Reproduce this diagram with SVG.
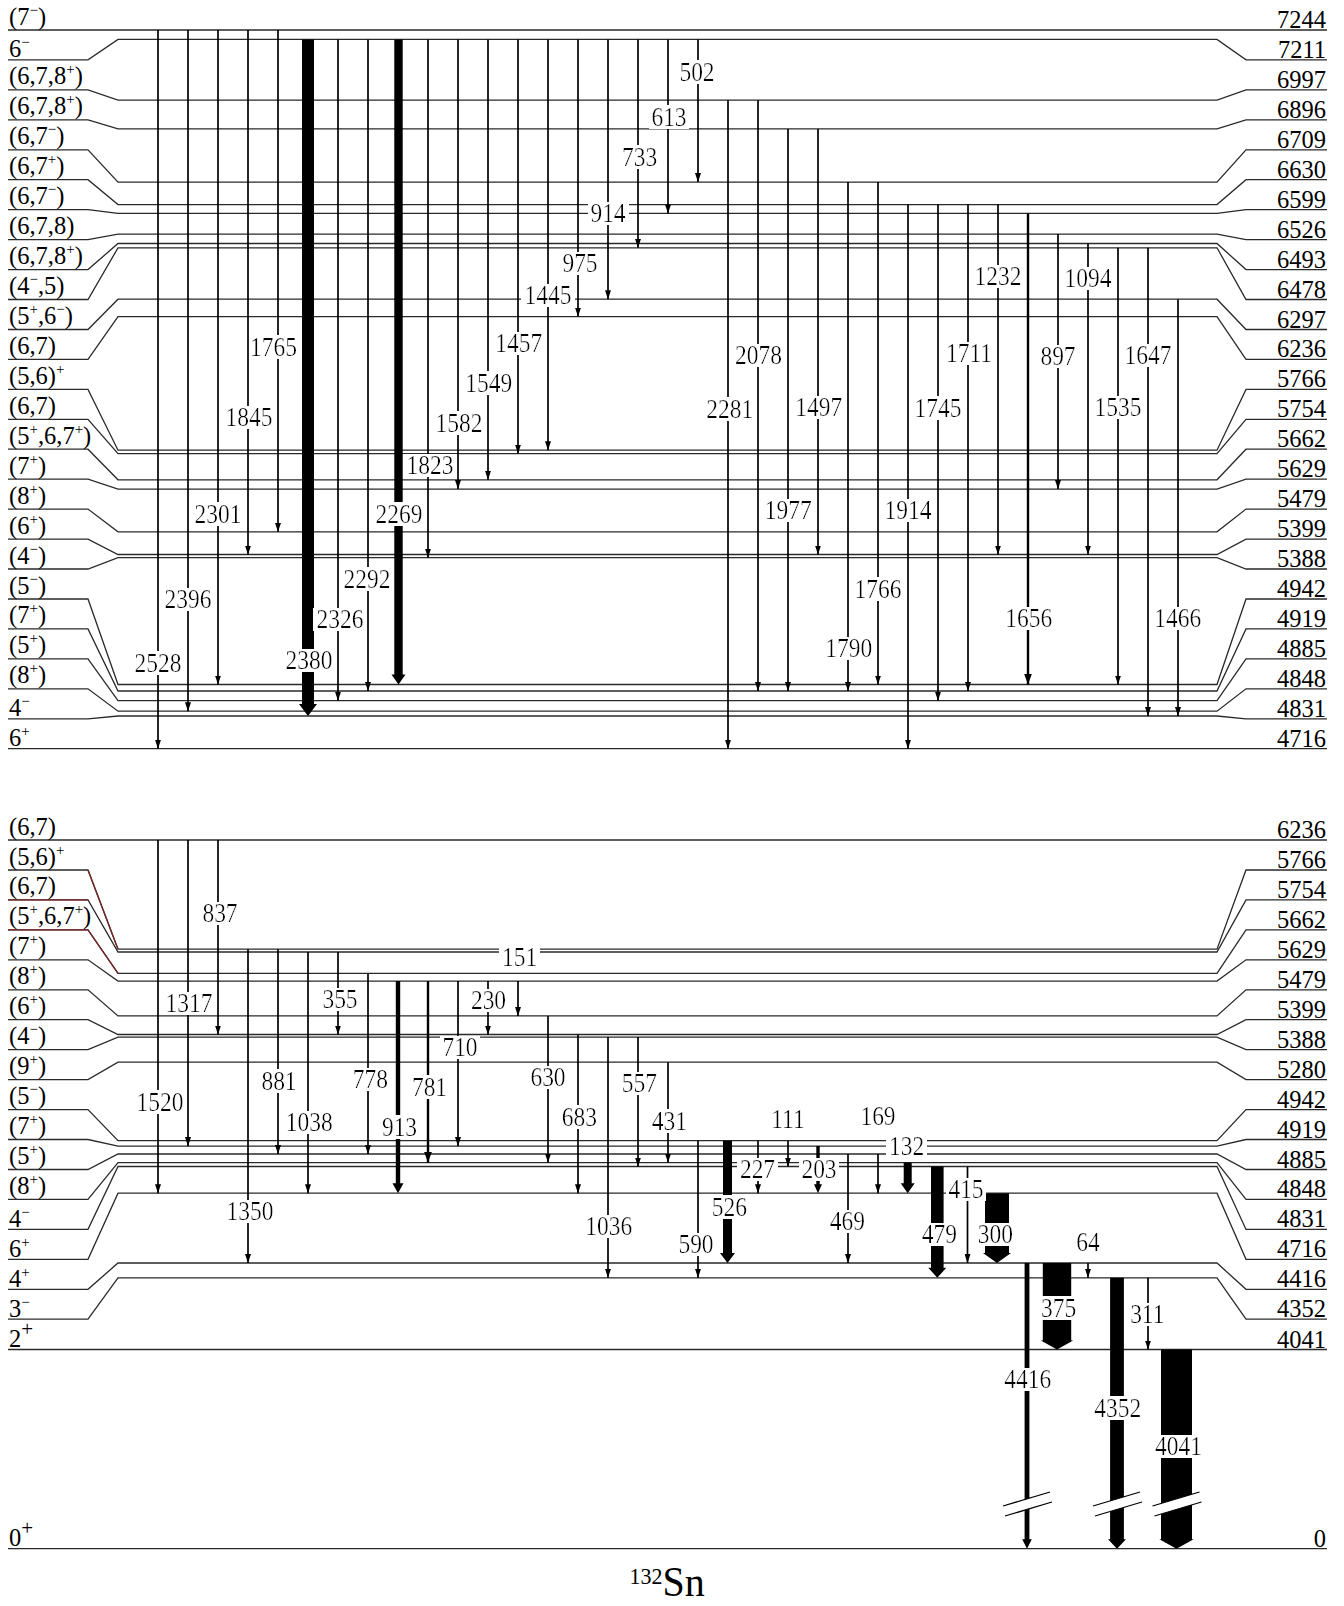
<svg xmlns="http://www.w3.org/2000/svg" width="1344" height="1606" viewBox="0 0 1344 1606">
<style>
.lv{fill:none;stroke:#2a2a2a;stroke-width:1.3}
.rd{fill:none;stroke:#7a2424;stroke-width:1.3}
.t{stroke:#000;stroke-width:1.7;marker-end:url(#ah)}
.t2{stroke:#000;stroke-width:2.4;marker-end:url(#ah2)}
.b{fill:#000}
.lt{font-family:"Liberation Serif","Times New Roman",serif;font-size:24.5px;fill:#000}
.rt{font-family:"Liberation Serif","Times New Roman",serif;font-size:24.5px;fill:#000;text-anchor:end}
.s{font-size:15px}
.p{font-size:21px}
.g{font-family:"Liberation Serif","Times New Roman",serif;font-size:23.5px;text-anchor:middle;fill:#000;filter:url(#bg)}
.g0{font-family:"Liberation Serif","Times New Roman",serif;font-size:23.5px;text-anchor:middle;fill:#000;filter:url(#bg0)}
.wh{fill:#fff;stroke:none}
.bl{stroke:#000;stroke-width:1.3}
</style>
<defs>
<marker id="ah" viewBox="0 -3 9 6" refX="9" refY="0" markerWidth="9" markerHeight="6" orient="auto" markerUnits="userSpaceOnUse"><path d="M0,-3L9,0L0,3z"/></marker>
<marker id="ah2" viewBox="0 -4 11 8" refX="11" refY="0" markerWidth="11" markerHeight="8" orient="auto" markerUnits="userSpaceOnUse"><path d="M0,-4L11,0L0,4z"/></marker>
<filter id="bg" x="-0.06" y="0.12" width="1.12" height="0.78"><feFlood flood-color="#fff"/><feComposite in="SourceGraphic" operator="over"/></filter>
<filter id="bg0" x="0" y="0.12" width="1" height="0.78"><feFlood flood-color="#fff"/><feComposite in="SourceGraphic" operator="over"/></filter>
</defs>
<rect width="1344" height="1606" fill="#fff"/>

<g id="levels-top">
<g id="t7244"><polyline class="lv" points="8,30 1327,30"/><text class="lt" x="9" y="24.5">(7<tspan class="s" dy="-10">−</tspan><tspan dy="10">)</tspan></text><text class="rt" x="1326" y="28">7244</text></g>
<g id="t7211"><polyline class="lv" points="8,59.9 88,59.9 118,39.4 1217,39.4 1246,59.9 1327,59.9"/><text class="lt" x="9" y="57.4">6<tspan class="s" dy="-10">−</tspan></text><text class="rt" x="1326" y="57.9">7211</text></g>
<g id="t6997"><polyline class="lv" points="8,89.9 88,89.9 118,100.2 1217,100.2 1246,89.9 1327,89.9"/><text class="lt" x="9" y="84.4">(6,7,8<tspan class="s" dy="-10">+</tspan><tspan dy="10">)</tspan></text><text class="rt" x="1326" y="87.9">6997</text></g>
<g id="t6896"><polyline class="lv" points="8,119.8 88,119.8 118,128.9 1217,128.9 1246,119.8 1327,119.8"/><text class="lt" x="9" y="114.3">(6,7,8<tspan class="s" dy="-10">+</tspan><tspan dy="10">)</tspan></text><text class="rt" x="1326" y="117.8">6896</text></g>
<g id="t6709"><polyline class="lv" points="8,149.8 88,149.8 118,182.1 1217,182.1 1246,149.8 1327,149.8"/><text class="lt" x="9" y="144.3">(6,7<tspan class="s" dy="-10">−</tspan><tspan dy="10">)</tspan></text><text class="rt" x="1326" y="147.8">6709</text></g>
<g id="t6630"><polyline class="lv" points="8,179.7 88,179.7 118,204.6 1217,204.6 1246,179.7 1327,179.7"/><text class="lt" x="9" y="174.2">(6,7<tspan class="s" dy="-10">+</tspan><tspan dy="10">)</tspan></text><text class="rt" x="1326" y="177.7">6630</text></g>
<g id="t6599"><polyline class="lv" points="8,209.7 88,209.7 118,213.4 1217,213.4 1246,209.7 1327,209.7"/><text class="lt" x="9" y="204.2">(6,7<tspan class="s" dy="-10">−</tspan><tspan dy="10">)</tspan></text><text class="rt" x="1326" y="207.7">6599</text></g>
<g id="t6526"><polyline class="lv" points="8,239.6 88,239.6 118,234.1 1217,234.1 1246,239.6 1327,239.6"/><text class="lt" x="9" y="234.1">(6,7,8)</text><text class="rt" x="1326" y="237.6">6526</text></g>
<g id="t6493"><polyline class="lv" points="8,269.6 88,269.6 118,243.5 1217,243.5 1246,269.6 1327,269.6"/><text class="lt" x="9" y="264.1">(6,7,8<tspan class="s" dy="-10">+</tspan><tspan dy="10">)</tspan></text><text class="rt" x="1326" y="267.6">6493</text></g>
<g id="t6478"><polyline class="lv" points="8,299.5 88,299.5 118,247.8 1217,247.8 1246,299.5 1327,299.5"/><text class="lt" x="9" y="294">(4<tspan class="s" dy="-10">−</tspan><tspan dy="10">,5)</tspan></text><text class="rt" x="1326" y="297.5">6478</text></g>
<g id="t6297"><polyline class="lv" points="8,329.5 88,329.5 118,299.2 1217,299.2 1246,329.5 1327,329.5"/><text class="lt" x="9" y="324">(5<tspan class="s" dy="-10">+</tspan><tspan dy="10">,6</tspan><tspan class="s" dy="-10">−</tspan><tspan dy="10">)</tspan></text><text class="rt" x="1326" y="327.5">6297</text></g>
<g id="t6236"><polyline class="lv" points="8,359.4 88,359.4 118,316.6 1217,316.6 1246,359.4 1327,359.4"/><text class="lt" x="9" y="353.9">(6,7)</text><text class="rt" x="1326" y="357.4">6236</text></g>
<g id="t5766"><polyline class="lv" points="8,389.4 88,389.4 118,450.2 1217,450.2 1246,389.4 1327,389.4"/><text class="lt" x="9" y="383.9">(5,6)<tspan class="s" dy="-10">+</tspan></text><text class="rt" x="1326" y="387.4">5766</text></g>
<g id="t5754"><polyline class="lv" points="8,419.3 88,419.3 118,453.6 1217,453.6 1246,419.3 1327,419.3"/><text class="lt" x="9" y="413.8">(6,7)</text><text class="rt" x="1326" y="417.3">5754</text></g>
<g id="t5662"><polyline class="lv" points="8,449.2 88,449.2 118,479.8 1217,479.8 1246,449.2 1327,449.2"/><text class="lt" x="9" y="443.7">(5<tspan class="s" dy="-10">+</tspan><tspan dy="10">,6,7</tspan><tspan class="s" dy="-10">+</tspan><tspan dy="10">)</tspan></text><text class="rt" x="1326" y="447.2">5662</text></g>
<g id="t5629"><polyline class="lv" points="8,479.2 88,479.2 118,489.1 1217,489.1 1246,479.2 1327,479.2"/><text class="lt" x="9" y="473.7">(7<tspan class="s" dy="-10">+</tspan><tspan dy="10">)</tspan></text><text class="rt" x="1326" y="477.2">5629</text></g>
<g id="t5479"><polyline class="lv" points="8,509.1 88,509.1 118,531.8 1217,531.8 1246,509.1 1327,509.1"/><text class="lt" x="9" y="503.6">(8<tspan class="s" dy="-10">+</tspan><tspan dy="10">)</tspan></text><text class="rt" x="1326" y="507.1">5479</text></g>
<g id="t5399"><polyline class="lv" points="8,539.1 88,539.1 118,554.5 1217,554.5 1246,539.1 1327,539.1"/><text class="lt" x="9" y="533.6">(6<tspan class="s" dy="-10">+</tspan><tspan dy="10">)</tspan></text><text class="rt" x="1326" y="537.1">5399</text></g>
<g id="t5388"><polyline class="lv" points="8,569 88,569 118,557.7 1217,557.7 1246,569 1327,569"/><text class="lt" x="9" y="563.5">(4<tspan class="s" dy="-10">−</tspan><tspan dy="10">)</tspan></text><text class="rt" x="1326" y="567">5388</text></g>
<g id="t4942"><polyline class="lv" points="8,599 88,599 118,684.5 1217,684.5 1246,599 1327,599"/><text class="lt" x="9" y="593.5">(5<tspan class="s" dy="-10">−</tspan><tspan dy="10">)</tspan></text><text class="rt" x="1326" y="597">4942</text></g>
<g id="t4919"><polyline class="lv" points="8,628.9 88,628.9 118,691 1217,691 1246,628.9 1327,628.9"/><text class="lt" x="9" y="623.4">(7<tspan class="s" dy="-10">+</tspan><tspan dy="10">)</tspan></text><text class="rt" x="1326" y="626.9">4919</text></g>
<g id="t4885"><polyline class="lv" points="8,658.9 88,658.9 118,700.7 1217,700.7 1246,658.9 1327,658.9"/><text class="lt" x="9" y="653.4">(5<tspan class="s" dy="-10">+</tspan><tspan dy="10">)</tspan></text><text class="rt" x="1326" y="656.9">4885</text></g>
<g id="t4848"><polyline class="lv" points="8,688.8 88,688.8 118,711.2 1217,711.2 1246,688.8 1327,688.8"/><text class="lt" x="9" y="683.3">(8<tspan class="s" dy="-10">+</tspan><tspan dy="10">)</tspan></text><text class="rt" x="1326" y="686.8">4848</text></g>
<g id="t4831"><polyline class="lv" points="8,718.8 88,718.8 118,716 1217,716 1246,718.8 1327,718.8"/><text class="lt" x="9" y="716.3">4<tspan class="s" dy="-10">−</tspan></text><text class="rt" x="1326" y="716.8">4831</text></g>
<g id="t4716"><polyline class="lv" points="8,748.7 1327,748.7"/><text class="lt" x="9" y="746.2">6<tspan class="s" dy="-10">+</tspan></text><text class="rt" x="1326" y="746.7">4716</text></g>
</g>

<g id="levels-bottom">
<g id="b6236"><polyline class="lv" points="8,840 1327,840"/><text class="lt" x="9" y="834.5">(6,7)</text><text class="rt" x="1326" y="838">6236</text></g>
<g id="b5766"><polyline class="lv" points="8,870 88,870 118,949.2 1217,949.2 1246,870 1327,870"/><path class="rd" d="M88,870L118,949.2"/><text class="lt" x="9" y="864.5">(5,6)<tspan class="s" dy="-10">+</tspan></text><text class="rt" x="1326" y="868">5766</text></g>
<g id="b5754"><polyline class="lv" points="8,899.9 88,899.9 118,952 1217,952 1246,899.9 1327,899.9"/><path class="rd" d="M8,899.9H88"/><text class="lt" x="9" y="894.4">(6,7)</text><text class="rt" x="1326" y="897.9">5754</text></g>
<g id="b5662"><polyline class="lv" points="8,929.9 88,929.9 118,973.4 1217,973.4 1246,929.9 1327,929.9"/><path class="rd" d="M8,929.9H88L118,973.4"/><text class="lt" x="9" y="924.4">(5<tspan class="s" dy="-10">+</tspan><tspan dy="10">,6,7</tspan><tspan class="s" dy="-10">+</tspan><tspan dy="10">)</tspan></text><text class="rt" x="1326" y="927.9">5662</text></g>
<g id="b5629"><polyline class="lv" points="8,959.8 88,959.8 118,981.1 1217,981.1 1246,959.8 1327,959.8"/><text class="lt" x="9" y="954.3">(7<tspan class="s" dy="-10">+</tspan><tspan dy="10">)</tspan></text><text class="rt" x="1326" y="957.8">5629</text></g>
<g id="b5479"><polyline class="lv" points="8,989.8 88,989.8 118,1015.9 1217,1015.9 1246,989.8 1327,989.8"/><text class="lt" x="9" y="984.3">(8<tspan class="s" dy="-10">+</tspan><tspan dy="10">)</tspan></text><text class="rt" x="1326" y="987.8">5479</text></g>
<g id="b5399"><polyline class="lv" points="8,1019.7 88,1019.7 118,1034.5 1217,1034.5 1246,1019.7 1327,1019.7"/><text class="lt" x="9" y="1014.2">(6<tspan class="s" dy="-10">+</tspan><tspan dy="10">)</tspan></text><text class="rt" x="1326" y="1017.7">5399</text></g>
<g id="b5388"><polyline class="lv" points="8,1049.7 88,1049.7 118,1037.1 1217,1037.1 1246,1049.7 1327,1049.7"/><text class="lt" x="9" y="1044.2">(4<tspan class="s" dy="-10">−</tspan><tspan dy="10">)</tspan></text><text class="rt" x="1326" y="1047.7">5388</text></g>
<g id="b5280"><polyline class="lv" points="8,1079.6 88,1079.6 118,1062.2 1217,1062.2 1246,1079.6 1327,1079.6"/><text class="lt" x="9" y="1074.1">(9<tspan class="s" dy="-10">+</tspan><tspan dy="10">)</tspan></text><text class="rt" x="1326" y="1077.6">5280</text></g>
<g id="b4942"><polyline class="lv" points="8,1109.6 88,1109.6 118,1140.7 1217,1140.7 1246,1109.6 1327,1109.6"/><text class="lt" x="9" y="1104.1">(5<tspan class="s" dy="-10">−</tspan><tspan dy="10">)</tspan></text><text class="rt" x="1326" y="1107.6">4942</text></g>
<g id="b4919"><polyline class="lv" points="8,1139.5 88,1139.5 118,1146.1 1217,1146.1 1246,1139.5 1327,1139.5"/><text class="lt" x="9" y="1134">(7<tspan class="s" dy="-10">+</tspan><tspan dy="10">)</tspan></text><text class="rt" x="1326" y="1137.5">4919</text></g>
<g id="b4885"><polyline class="lv" points="8,1169.5 88,1169.5 118,1154 1217,1154 1246,1169.5 1327,1169.5"/><text class="lt" x="9" y="1164">(5<tspan class="s" dy="-10">+</tspan><tspan dy="10">)</tspan></text><text class="rt" x="1326" y="1167.5">4885</text></g>
<g id="b4848"><polyline class="lv" points="8,1199.4 88,1199.4 118,1162.6 1217,1162.6 1246,1199.4 1327,1199.4"/><text class="lt" x="9" y="1193.9">(8<tspan class="s" dy="-10">+</tspan><tspan dy="10">)</tspan></text><text class="rt" x="1326" y="1197.4">4848</text></g>
<g id="b4831"><polyline class="lv" points="8,1229.4 88,1229.4 118,1166.5 1217,1166.5 1246,1229.4 1327,1229.4"/><text class="lt" x="9" y="1226.9">4<tspan class="s" dy="-10">−</tspan></text><text class="rt" x="1326" y="1227.4">4831</text></g>
<g id="b4716"><polyline class="lv" points="8,1259.3 88,1259.3 118,1193.2 1217,1193.2 1246,1259.3 1327,1259.3"/><text class="lt" x="9" y="1256.8">6<tspan class="s" dy="-10">+</tspan></text><text class="rt" x="1326" y="1257.3">4716</text></g>
<g id="b4416"><polyline class="lv" points="8,1289.3 88,1289.3 118,1263 1217,1263 1246,1289.3 1327,1289.3"/><text class="lt" x="9" y="1286.8">4<tspan class="s" dy="-10">+</tspan></text><text class="rt" x="1326" y="1287.3">4416</text></g>
<g id="b4352"><polyline class="lv" points="8,1319.2 88,1319.2 118,1277.8 1217,1277.8 1246,1319.2 1327,1319.2"/><text class="lt" x="9" y="1316.7">3<tspan class="s" dy="-10">−</tspan></text><text class="rt" x="1326" y="1317.2">4352</text></g>
<g id="b4041"><polyline class="lv" points="8,1349.5 1327,1349.5"/><text class="lt" x="9" y="1347">2<tspan class="p" dy="-11">+</tspan></text><text class="rt" x="1326" y="1347.5">4041</text></g>
<g id="b0"><polyline class="lv" points="8,1548.7 1327,1548.7"/><text class="lt" x="9" y="1546.2">0<tspan class="p" dy="-11">+</tspan></text><text class="rt" x="1326" y="1546.7">0</text></g>
</g>

<g id="connectors">
<line class="t" x1="158" y1="30" x2="158" y2="748.7"/>
<line class="t" x1="188" y1="30" x2="188" y2="711.2"/>
<line class="t" x1="218" y1="30" x2="218" y2="684.5"/>
<line class="t" x1="248" y1="30" x2="248" y2="554.5"/>
<line class="t" x1="278" y1="30" x2="278" y2="531.8"/>
<line class="t" x1="338" y1="39.4" x2="338" y2="700.7"/>
<line class="t" x1="368" y1="39.4" x2="368" y2="691"/>
<line class="t" x1="428" y1="39.4" x2="428" y2="557.7"/>
<line class="t" x1="458" y1="39.4" x2="458" y2="489.1"/>
<line class="t" x1="488" y1="39.4" x2="488" y2="479.8"/>
<line class="t" x1="518" y1="39.4" x2="518" y2="453.6"/>
<line class="t" x1="548" y1="39.4" x2="548" y2="450.2"/>
<line class="t" x1="578" y1="39.4" x2="578" y2="316.6"/>
<line class="t" x1="608" y1="39.4" x2="608" y2="299.2"/>
<line class="t" x1="638" y1="39.4" x2="638" y2="247.8"/>
<line class="t" x1="668" y1="39.4" x2="668" y2="213.4"/>
<line class="t" x1="698" y1="39.4" x2="698" y2="182.1"/>
<line class="t" x1="728" y1="100.2" x2="728" y2="748.7"/>
<line class="t" x1="758" y1="100.2" x2="758" y2="691"/>
<line class="t" x1="788" y1="128.9" x2="788" y2="691"/>
<line class="t" x1="818" y1="128.9" x2="818" y2="554.5"/>
<line class="t" x1="848" y1="182.1" x2="848" y2="691"/>
<line class="t" x1="878" y1="182.1" x2="878" y2="684.5"/>
<line class="t" x1="908" y1="204.6" x2="908" y2="748.7"/>
<line class="t" x1="938" y1="204.6" x2="938" y2="700.7"/>
<line class="t" x1="968" y1="204.6" x2="968" y2="691"/>
<line class="t" x1="998" y1="204.6" x2="998" y2="554.5"/>
<line class="t2" x1="1028" y1="213.4" x2="1028" y2="684.5"/>
<line class="t" x1="1058" y1="234.1" x2="1058" y2="489.1"/>
<line class="t" x1="1088" y1="243.5" x2="1088" y2="554.5"/>
<line class="t" x1="1118" y1="247.8" x2="1118" y2="684.5"/>
<line class="t" x1="1148" y1="247.8" x2="1148" y2="716"/>
<line class="t" x1="1178" y1="299.2" x2="1178" y2="716"/>
<polygon class="b" points="302,39.4 314,39.4 314,704 317,704 308,716 299,704 302,704"/>
<polygon class="b" points="394.3,39.4 402.7,39.4 402.7,674.5 405.5,674.5 398.5,684.5 391.5,674.5 394.3,674.5"/>

<line class="t" x1="158" y1="840" x2="158" y2="1193.2"/>
<line class="t" x1="188" y1="840" x2="188" y2="1146.1"/>
<line class="t" x1="218" y1="840" x2="218" y2="1034.5"/>
<line class="t" x1="248" y1="949.2" x2="248" y2="1263"/>
<line class="t" x1="278" y1="949.2" x2="278" y2="1154"/>
<line class="t" x1="308" y1="952" x2="308" y2="1193.2"/>
<line class="t" x1="338" y1="952" x2="338" y2="1034.5"/>
<line class="t" x1="368" y1="973.4" x2="368" y2="1154"/>
<line class="t2" x1="428" y1="981.1" x2="428" y2="1162.6"/>
<line class="t" x1="458" y1="981.1" x2="458" y2="1146.1"/>
<line class="t" x1="488" y1="981.1" x2="488" y2="1034.5"/>
<line class="t" x1="518" y1="981.1" x2="518" y2="1015.9"/>
<line class="t" x1="548" y1="1015.9" x2="548" y2="1162.6"/>
<line class="t" x1="578" y1="1034.5" x2="578" y2="1193.2"/>
<line class="t" x1="608" y1="1037.1" x2="608" y2="1277.8"/>
<line class="t" x1="638" y1="1037.1" x2="638" y2="1166.5"/>
<line class="t" x1="668" y1="1062.2" x2="668" y2="1162.6"/>
<line class="t" x1="698" y1="1140.7" x2="698" y2="1277.8"/>
<line class="t" x1="758" y1="1140.7" x2="758" y2="1193.2"/>
<line class="t" x1="788" y1="1140.7" x2="788" y2="1166.5"/>
<line class="t" x1="848" y1="1154" x2="848" y2="1263"/>
<line class="t" x1="878" y1="1154" x2="878" y2="1193.2"/>
<line class="t" x1="967.5" y1="1166.5" x2="967.5" y2="1263"/>
<line class="t" x1="1088" y1="1263" x2="1088" y2="1277.8"/>
<line class="t" x1="1148" y1="1277.8" x2="1148" y2="1349.5"/>
<polygon class="b" points="395.8,981.1 400.2,981.1 400.2,1183.2 403.5,1183.2 398,1193.2 392.5,1183.2 395.8,1183.2"/>
<polygon class="b" points="723,1140.7 732,1140.7 732,1253 735,1253 727.5,1263 720,1253 723,1253"/>
<polygon class="b" points="816.3,1146.1 819.7,1146.1 819.7,1184.2 822,1184.2 818,1193.2 814,1184.2 816.3,1184.2"/>
<polygon class="b" points="903.7,1162.6 911.7,1162.6 911.7,1183.2 914.7,1183.2 907.7,1193.2 900.7,1183.2 903.7,1183.2"/>
<polygon class="b" points="931,1166.5 943.6,1166.5 943.6,1267.8 946.3,1267.8 937.3,1277.8 928.3,1267.8 931,1267.8"/>
<polygon class="b" points="985,1193.2 1009,1193.2 1009,1253 1011,1253 997,1263 983,1253 985,1253"/>
<polygon class="b" points="1024.6,1263 1029.4,1263 1029.4,1539.2 1031.8,1539.2 1027,1548.7 1022.2,1539.2 1024.6,1539.2"/>
<polygon class="b" points="1042.8,1263 1071.2,1263 1071.2,1340.5 1073.2,1340.5 1057,1349.5 1040.8,1340.5 1042.8,1340.5"/>
<polygon class="b" points="1110.1,1277.8 1123.9,1277.8 1123.9,1539.2 1126,1539.2 1117,1548.7 1108,1539.2 1110.1,1539.2"/>
<polygon class="b" points="1161,1349.5 1192,1349.5 1192,1539.2 1193.7,1539.2 1176.5,1548.7 1159.3,1539.2 1161,1539.2"/>
<polygon class="wh" points="1003,1506 1050,1492 1052,1502 1005,1516"/>
<line class="bl" x1="1003" y1="1506" x2="1050" y2="1492"/>
<line class="bl" x1="1005" y1="1516" x2="1052" y2="1502"/>
<polygon class="wh" points="1093,1506 1140,1492 1142,1502 1095,1516"/>
<line class="bl" x1="1093" y1="1506" x2="1140" y2="1492"/>
<line class="bl" x1="1095" y1="1516" x2="1142" y2="1502"/>
<polygon class="wh" points="1152.5,1506 1199.5,1492 1201.5,1502 1154.5,1516"/>
<line class="bl" x1="1152.5" y1="1506" x2="1199.5" y2="1492"/>
<line class="bl" x1="1154.5" y1="1516" x2="1201.5" y2="1502"/>
</g>

<g id="transition-labels">
<text class="g" transform="matrix(1 0 0 1.12 158 671.7)">2528</text>
<text class="g" transform="matrix(1 0 0 1.12 188 608)">2396</text>
<text class="g" transform="matrix(1 0 0 1.12 218 522.7)">2301</text>
<text class="g" transform="matrix(1 0 0 1.12 249 426)">1845</text>
<text class="g0" transform="matrix(1 0 0 1.12 273.5 355.7)">1765</text>
<text class="g" transform="matrix(1 0 0 1.12 309 669)">2380</text>
<text class="g" transform="matrix(1 0 0 1.12 340 628.3)">2326</text>
<text class="g" transform="matrix(1 0 0 1.12 367 587.7)">2292</text>
<text class="g" transform="matrix(1 0 0 1.12 399 522.7)">2269</text>
<text class="g" transform="matrix(1 0 0 1.12 430 474.3)">1823</text>
<text class="g" transform="matrix(1 0 0 1.12 459 431.7)">1582</text>
<text class="g" transform="matrix(1 0 0 1.12 488.8 391.7)">1549</text>
<text class="g" transform="matrix(1 0 0 1.12 518.7 352.3)">1457</text>
<text class="g" transform="matrix(1 0 0 1.12 548 304)">1445</text>
<text class="g" transform="matrix(1 0 0 1.12 580 272.3)">975</text>
<text class="g" transform="matrix(1 0 0 1.12 608 222.3)">914</text>
<text class="g" transform="matrix(1 0 0 1.12 639.7 165.7)">733</text>
<text class="g" transform="matrix(1 0 0 1.12 669 125.7)">613</text>
<text class="g" transform="matrix(1 0 0 1.12 697 80.7)">502</text>
<text class="g" transform="matrix(1 0 0 1.12 729.7 417.7)">2281</text>
<text class="g" transform="matrix(1 0 0 1.12 758.5 364)">2078</text>
<text class="g" transform="matrix(1 0 0 1.12 788.3 519.3)">1977</text>
<text class="g" transform="matrix(1 0 0 1.12 818.8 416)">1497</text>
<text class="g" transform="matrix(1 0 0 1.12 848.8 657)">1790</text>
<text class="g" transform="matrix(1 0 0 1.12 878 597.7)">1766</text>
<text class="g" transform="matrix(1 0 0 1.12 908 519.3)">1914</text>
<text class="g" transform="matrix(1 0 0 1.12 938 416.7)">1745</text>
<text class="g" transform="matrix(1 0 0 1.12 969 362.3)">1711</text>
<text class="g" transform="matrix(1 0 0 1.12 998 285)">1232</text>
<text class="g" transform="matrix(1 0 0 1.12 1028.7 627)">1656</text>
<text class="g" transform="matrix(1 0 0 1.12 1058 365)">897</text>
<text class="g" transform="matrix(1 0 0 1.12 1088 287.3)">1094</text>
<text class="g" transform="matrix(1 0 0 1.12 1118 416)">1535</text>
<text class="g" transform="matrix(1 0 0 1.12 1148 364)">1647</text>
<text class="g" transform="matrix(1 0 0 1.12 1177.7 627)">1466</text>

<text class="g" transform="matrix(1 0 0 1.12 160 1110.7)">1520</text>
<text class="g" transform="matrix(1 0 0 1.12 189 1012.3)">1317</text>
<text class="g" transform="matrix(1 0 0 1.12 220 922.3)">837</text>
<text class="g" transform="matrix(1 0 0 1.12 250 1220)">1350</text>
<text class="g" transform="matrix(1 0 0 1.12 279 1089.7)">881</text>
<text class="g" transform="matrix(1 0 0 1.12 309.3 1131.3)">1038</text>
<text class="g" transform="matrix(1 0 0 1.12 340 1008)">355</text>
<text class="g" transform="matrix(1 0 0 1.12 370.3 1088)">778</text>
<text class="g" transform="matrix(1 0 0 1.12 399.5 1135.7)">913</text>
<text class="g" transform="matrix(1 0 0 1.12 429.5 1095.7)">781</text>
<text class="g" transform="matrix(1 0 0 1.12 460 1056.3)">710</text>
<text class="g" transform="matrix(1 0 0 1.12 488.5 1009)">230</text>
<text class="g" transform="matrix(1 0 0 1.12 519.7 966.3)">151</text>
<text class="g" transform="matrix(1 0 0 1.12 548 1086.3)">630</text>
<text class="g" transform="matrix(1 0 0 1.12 579.3 1125.7)">683</text>
<text class="g" transform="matrix(1 0 0 1.12 608.8 1235)">1036</text>
<text class="g" transform="matrix(1 0 0 1.12 639.3 1092.3)">557</text>
<text class="g" transform="matrix(1 0 0 1.12 669.3 1129.7)">431</text>
<text class="g" transform="matrix(1 0 0 1.12 696 1253.3)">590</text>
<text class="g" transform="matrix(1 0 0 1.12 729.4 1215.7)">526</text>
<text class="g" transform="matrix(1 0 0 1.12 757.5 1178)">227</text>
<text class="g" transform="matrix(1 0 0 1.12 788 1128)">111</text>
<text class="g" transform="matrix(1 0 0 1.12 819 1178)">203</text>
<text class="g" transform="matrix(1 0 0 1.12 847.3 1230)">469</text>
<text class="g" transform="matrix(1 0 0 1.12 878 1124.7)">169</text>
<text class="g" transform="matrix(1 0 0 1.12 906.6 1154.7)">132</text>
<text class="g" transform="matrix(1 0 0 1.12 939.3 1243.3)">479</text>
<text class="g" transform="matrix(1 0 0 1.12 966 1198)">415</text>
<text class="g" transform="matrix(1 0 0 1.12 995.3 1243.3)">300</text>
<text class="g" transform="matrix(1 0 0 1.12 1027.7 1388.3)">4416</text>
<text class="g" transform="matrix(1 0 0 1.12 1058.7 1316.7)">375</text>
<text class="g" transform="matrix(1 0 0 1.12 1088 1251)">64</text>
<text class="g" transform="matrix(1 0 0 1.12 1117.7 1416.7)">4352</text>
<text class="g" transform="matrix(1 0 0 1.12 1147.3 1323.3)">311</text>
<text class="g" transform="matrix(1 0 0 1.12 1178.5 1455)">4041</text>
</g>

<g id="title">
<text transform="matrix(1 0 0 1.05 629.5 1596)" font-family="Liberation Serif, Times New Roman, serif" fill="#000"><tspan x="0" y="-11.5" font-size="22">132</tspan><tspan dy="11.5" font-size="40">Sn</tspan></text>
</g>
</svg>
